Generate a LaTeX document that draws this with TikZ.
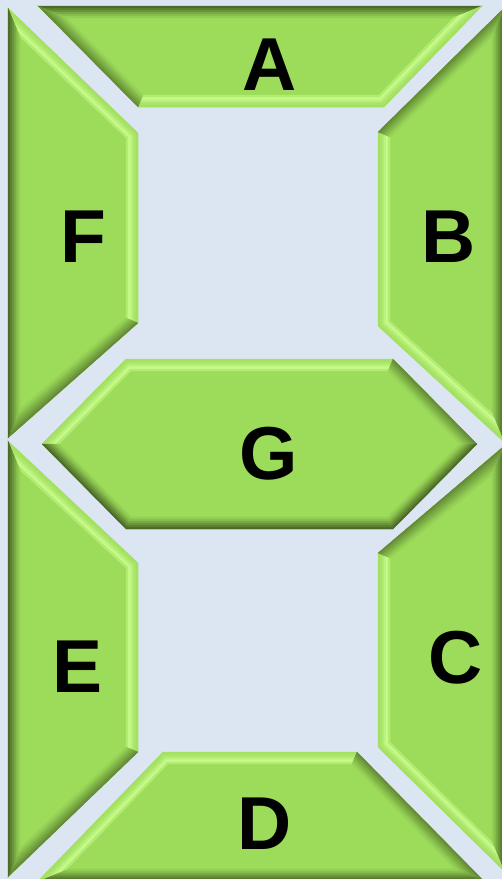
\documentclass[tikz,border=0pt]{standalone}
\usepackage{fontspec}
\setmainfont{Liberation Sans}
\usetikzlibrary{calc}
\definecolor{bgc}{HTML}{DCE6F2}
\definecolor{mainc}{HTML}{9DDC5A}
\definecolor{dkc}{HTML}{4C6A27}
\definecolor{ltc}{HTML}{CCFF90}
\def\darklist{0/dkc!100!mainc,1/dkc!82!mainc,2/dkc!64!mainc,3/dkc!46!mainc,4/dkc!28!mainc,5/dkc!12!mainc}
\def\midlist{0/dkc!70!mainc,1/dkc!58!mainc,2/dkc!46!mainc,3/dkc!34!mainc,4/dkc!22!mainc,5/dkc!10!mainc}
\def\lightlist{0/ltc!15!mainc,1/ltc!24!mainc,2/ltc!40!mainc,3/ltc!68!mainc,4/ltc!90!mainc,5/ltc!45!mainc}
\newcommand\bevband[4]{%
  \foreach \k/\col in #4 {%
    \pgfmathsetmacro\bvA{\k/6}\pgfmathsetmacro\bvB{(\k+1)/6}%
    \filldraw[fill=\col,draw=\col,line width=0.25pt]
      ($(#1#2)!\bvA!(#1i#2)$) -- ($(#1#3)!\bvA!(#1i#3)$) --
      ($(#1#3)!\bvB!(#1i#3)$) -- ($(#1#2)!\bvB!(#1i#2)$) -- cycle;
  }}
\tikzset{lbl/.style={inner sep=0pt,text=black,font=\fontsize{75pt}{75pt}\selectfont\bfseries}}
\begin{document}
\begin{tikzpicture}[x=1pt,y=-1pt]
\useasboundingbox (0,0) rectangle (502,879);
\fill[bgc] (0,0) rectangle (502,879);
\begin{scope}
\clip (0,0) rectangle (502,879);
% ---- A
\coordinate (A1) at (38,6); \coordinate (A2) at (482,6);
\coordinate (A3) at (384,107); \coordinate (A4) at (138,107);
\coordinate (Ai1) at (67,18); \coordinate (Ai2) at (453,18);
\coordinate (Ai3) at (379,95); \coordinate (Ai4) at (143,95);
\fill[mainc] (A1)--(A2)--(A3)--(A4)--cycle;
\bevband{A}{1}{2}{\darklist}
\bevband{A}{2}{3}{\lightlist}
\bevband{A}{3}{4}{\lightlist}
\bevband{A}{4}{1}{\midlist}
% ---- F
\coordinate (F1) at (8,8); \coordinate (F2) at (138,133);
\coordinate (F3) at (138,323); \coordinate (F4) at (8,438);
\coordinate (Fi1) at (20,37); \coordinate (Fi2) at (126,138);
\coordinate (Fi3) at (126,318); \coordinate (Fi4) at (20,409);
\fill[mainc] (F1)--(F2)--(F3)--(F4)--cycle;
\bevband{F}{1}{2}{\lightlist}
\bevband{F}{2}{3}{\lightlist}
\bevband{F}{3}{4}{\midlist}
\bevband{F}{4}{1}{\darklist}
% ---- E
\coordinate (E1) at (8,441); \coordinate (E2) at (138,563);
\coordinate (E3) at (138,752); \coordinate (E4) at (8,877);
\coordinate (Ei1) at (20,470); \coordinate (Ei2) at (126,568);
\coordinate (Ei3) at (126,747); \coordinate (Ei4) at (20,848);
\fill[mainc] (E1)--(E2)--(E3)--(E4)--cycle;
\bevband{E}{1}{2}{\lightlist}
\bevband{E}{2}{3}{\lightlist}
\bevband{E}{3}{4}{\midlist}
\bevband{E}{4}{1}{\darklist}
% ---- B
\coordinate (B1) at (504,8); \coordinate (B2) at (504,442);
\coordinate (B3) at (378,326); \coordinate (B4) at (378,132);
\coordinate (Bi1) at (492,37); \coordinate (Bi2) at (492,413);
\coordinate (Bi3) at (390,321); \coordinate (Bi4) at (390,137);
\fill[mainc] (B1)--(B2)--(B3)--(B4)--cycle;
\bevband{B}{1}{2}{\darklist}
\bevband{B}{2}{3}{\lightlist}
\bevband{B}{3}{4}{\lightlist}
\bevband{B}{4}{1}{\midlist}
% ---- C
\coordinate (C1) at (504,446); \coordinate (C2) at (504,871);
\coordinate (C3) at (378,747); \coordinate (C4) at (378,553);
\coordinate (Ci1) at (492,475); \coordinate (Ci2) at (492,842);
\coordinate (Ci3) at (390,742); \coordinate (Ci4) at (390,558);
\fill[mainc] (C1)--(C2)--(C3)--(C4)--cycle;
\bevband{C}{1}{2}{\darklist}
\bevband{C}{2}{3}{\lightlist}
\bevband{C}{3}{4}{\lightlist}
\bevband{C}{4}{1}{\midlist}
% ---- D
\coordinate (D1) at (163,752); \coordinate (D2) at (357,752);
\coordinate (D3) at (484,881); \coordinate (D4) at (38,881);
\coordinate (Di1) at (168,764); \coordinate (Di2) at (352,764);
\coordinate (Di3) at (455,869); \coordinate (Di4) at (67,869);
\fill[mainc] (D1)--(D2)--(D3)--(D4)--cycle;
\bevband{D}{1}{2}{\lightlist}
\bevband{D}{2}{3}{\midlist}
\bevband{D}{3}{4}{\darklist}
\bevband{D}{4}{1}{\lightlist}
% ---- G
\coordinate (G1) at (42,444); \coordinate (G2) at (126,359);
\coordinate (G3) at (393,359); \coordinate (G4) at (477,444);
\coordinate (G5) at (393,529); \coordinate (G6) at (126,529);
\coordinate (Gi1) at (59,444); \coordinate (Gi2) at (131,371);
\coordinate (Gi3) at (388,371); \coordinate (Gi4) at (460,444);
\coordinate (Gi5) at (388,517); \coordinate (Gi6) at (131,517);
\fill[mainc] (G1)--(G2)--(G3)--(G4)--(G5)--(G6)--cycle;
\bevband{G}{1}{2}{\lightlist}
\bevband{G}{2}{3}{\lightlist}
\bevband{G}{3}{4}{\midlist}
\bevband{G}{4}{5}{\darklist}
\bevband{G}{5}{6}{\darklist}
\bevband{G}{6}{1}{\darklist}
\end{scope}
% ---- labels
\node[lbl] (la) at (270,65) {A};
\node[lbl] (lb) at (449,237) {B};
\node[lbl] (lc) at (456,658) {C};
\node[lbl] (ld) at (265,824) {D};
\node[lbl] (le) at (78,667) {E};
\node[lbl] (lf) at (83,237) {F};
\node[lbl] (lg) at (269,454) {G};
\end{tikzpicture}
\end{document}
